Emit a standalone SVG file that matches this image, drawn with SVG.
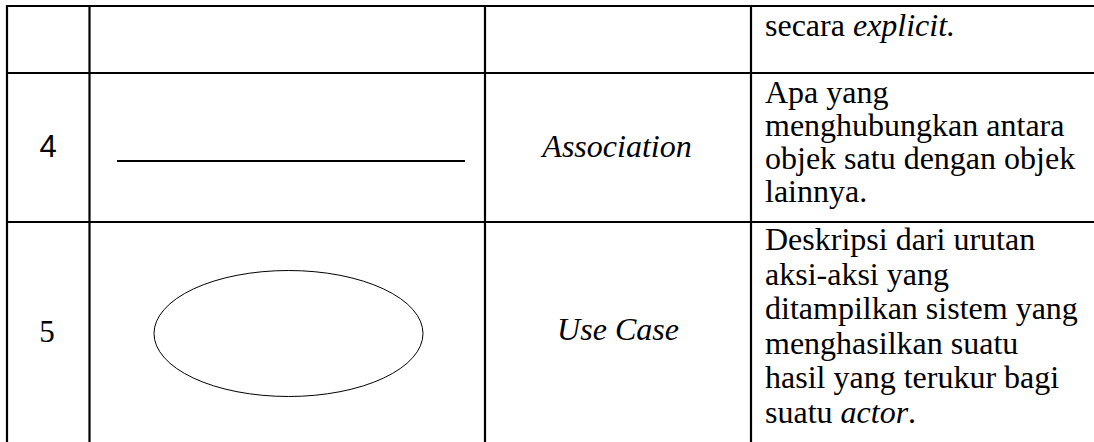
<svg xmlns="http://www.w3.org/2000/svg" width="1094" height="442" viewBox="0 0 1094 442">
<style>
.grid{stroke:#000;stroke-width:2.2;fill:none}
.t{font-family:'Liberation Serif','Tinos','DejaVu Serif',serif;font-size:32px;fill:#000}
.it{font-style:italic}
.num{font-family:'Liberation Serif','Tinos','DejaVu Serif',serif;font-size:31px;fill:#000;text-anchor:middle}
.sans{font-family:'Liberation Sans','Arimo',sans-serif}
.c{text-anchor:middle}
</style>
<rect x="0" y="0" width="1094" height="442" fill="#fff"/>
<g id="table-grid" class="grid">
<line x1="7" y1="6" x2="1094" y2="6"/>
<line x1="7" y1="73" x2="1094" y2="73"/>
<line x1="7" y1="222" x2="1094" y2="222"/>
<line x1="7" y1="5" x2="7" y2="442"/>
<line x1="89.5" y1="5" x2="89.5" y2="442"/>
<line x1="485" y1="5" x2="485" y2="442"/>
<line x1="751" y1="5" x2="751" y2="442"/>
</g>
<g id="row-3">
<text class="t" x="765" y="36">secara <tspan class="it">explicit.</tspan></text>
</g>
<g id="row-4">
<text class="num sans" x="48" y="157" font-size="30">4</text>
<g id="association-symbol">
<line x1="117" y1="161" x2="465" y2="161" stroke="#000" stroke-width="2.2"/>
</g>
<text class="t it c" x="617" y="157">Association</text>
<text class="t" x="765" y="103">Apa yang</text>
<text class="t" x="765" y="136">menghubungkan antara</text>
<text class="t" x="765" y="169">objek satu dengan objek</text>
<text class="t" x="765" y="202">lainnya.</text>
</g>
<g id="row-5">
<text class="num" x="47" y="342">5</text>
<g id="use-case-symbol">
<ellipse cx="288.5" cy="333.5" rx="134.5" ry="63" fill="none" stroke="#000" stroke-width="1"/>
</g>
<text class="t it c" x="618" y="340">Use Case</text>
<text class="t" x="765" y="250">Deskripsi dari urutan</text>
<text class="t" x="765" y="284.5">aksi-aksi yang</text>
<text class="t" x="765" y="319">ditampilkan sistem yang</text>
<text class="t" x="765" y="353.5">menghasilkan suatu</text>
<text class="t" x="765" y="388">hasil yang terukur bagi</text>
<text class="t" x="765" y="422.5">suatu <tspan class="it">actor</tspan>.</text>
</g>
</svg>
